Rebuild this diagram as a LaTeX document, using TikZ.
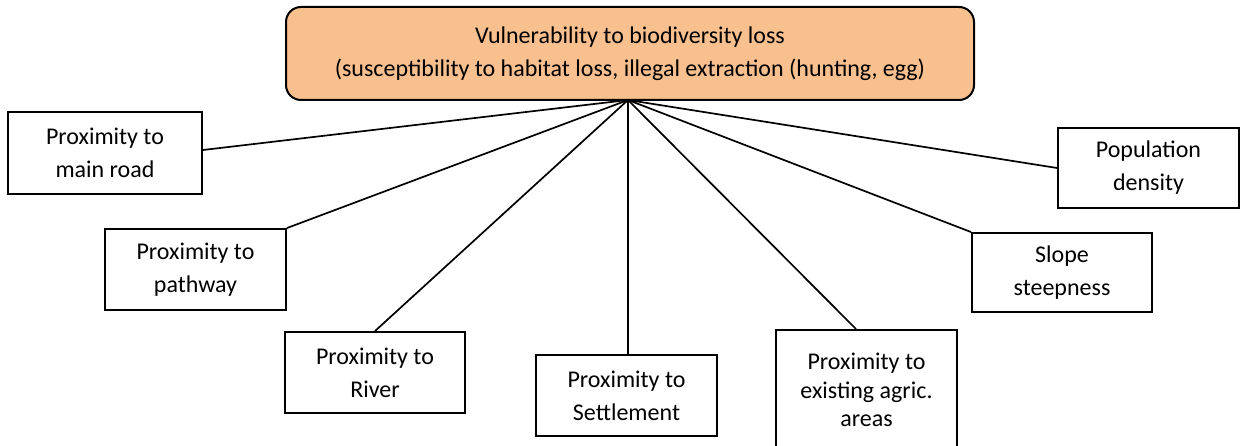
\documentclass[tikz,border=0pt]{standalone}
\usepackage{fontspec}
\setmainfont{Carlito}
\usetikzlibrary{calc}
\definecolor{headfill}{HTML}{F9C08F}
\tikzset{
  factor/.style={draw=black, line width=1.9pt, fill=white, align=center, inner sep=0pt,
    font=\fontsize{24}{33}\selectfont},
  headbox/.style={draw=black, line width=2pt, fill=headfill, rounded corners=15pt,
    align=center, inner sep=0pt, font=\fontsize{24}{32.5}\selectfont},
  link/.style={draw=black, line width=1.7pt}
}
\begin{document}
\begin{tikzpicture}[x=1pt,y=-1pt]
  \useasboundingbox (0,0) rectangle (1242,446);
  \begin{scope}
    \clip (0,0) rectangle (1242,446);
    % central criterion
    \node[headbox, minimum width=688pt, minimum height=93pt] (head) at (630,53.5)
      {Vulnerability to biodiversity loss\\(susceptibility to habitat loss, illegal extraction (hunting, egg)};
    \coordinate (hub) at (628,100);
    % contributing factors
    \node[factor, minimum width=194pt, minimum height=82pt] (road) at (105,153) {Proximity to\\main road};
    \node[factor, minimum width=181pt, minimum height=81pt] (path) at (195.5,269.5) {Proximity to\\pathway};
    \node[factor, minimum width=180pt, minimum height=81pt] (river) at (375,372.5) {Proximity to\\River};
    \node[factor, minimum width=181pt, minimum height=81pt] (settle) at (626.5,395.5) {Proximity to\\Settlement};
    \node[factor, minimum width=181pt, minimum height=120pt, font=\fontsize{24}{28.5}\selectfont] (agric) at (866.5,390)
      {Proximity to\\existing agric.\\areas};
    \node[factor, minimum width=180pt, minimum height=79pt] (slope) at (1062,272.5) {Slope\\steepness};
    \node[factor, minimum width=181pt, minimum height=80pt] (pop) at (1148.5,168) {Population\\density};
    % connectors from the central criterion
    \draw[link] (hub) -- ([yshift=3pt]road.east);
    \draw[link] (hub) -- (path.north east);
    \draw[link] (hub) -- (river.north);
    \draw[link] (hub) -- ([xshift=1.5pt]settle.north);
    \draw[link] (hub) -- ([xshift=-10.5pt]agric.north);
    \draw[link] (hub) -- (slope.north west);
    \draw[link] (hub) -- (pop.west);
  \end{scope}
\end{tikzpicture}
\end{document}
